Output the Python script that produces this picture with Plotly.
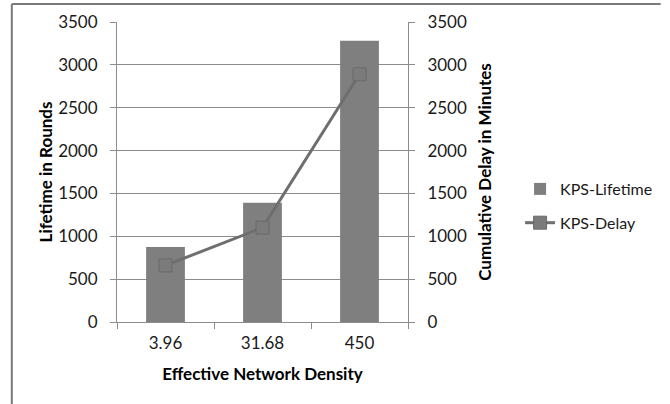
import plotly.graph_objects as go

# Network density categories and measured series
densities = ["3.96", "31.68", "450"]
lifetime_rounds = [875, 1390, 3280]
delay_minutes = [660, 1100, 2890]

W, H = 670, 404
ML, MR, MT, MB = 117, 257, 22, 82
PW, PH = W - ML - MR, H - MT - MB


def px_x(px):
    return (px - ML) / PW


def px_y(py):
    return (H - MB - py) / PH


FONT = "Lato, 'Open Sans', sans-serif"
AXIS_GRAY = "#8c8c8c"

fig = go.Figure()
fig.add_trace(go.Bar(
    x=densities, y=lifetime_rounds, name="KPS-Lifetime",
    marker=dict(color="#7f7f7f", line=dict(width=0)),
    width=0.4, legendgroup="a",
))
fig.add_trace(go.Scatter(
    x=densities, y=delay_minutes, name="KPS-Delay", yaxis="y2",
    mode="lines+markers",
    line=dict(color="#6e6e6e", width=3),
    marker=dict(symbol="square", size=13, color="#7b7b7b",
                line=dict(color="#6a6a6a", width=1)),
    legendgroup="b",
))

tickfont = dict(family=FONT, size=17, color="#1a1a1a")
titlefont = dict(family=FONT, size=17, color="#000000", weight="bold")

fig.update_layout(
    width=W, height=H,
    margin=dict(l=ML, r=MR, t=MT, b=MB, pad=0),
    paper_bgcolor="white", plot_bgcolor="white",
    font=dict(family=FONT, color="#1a1a1a"),
    showlegend=True,
    legend=dict(
        x=px_x(527), y=px_y(206), xanchor="left", yanchor="middle",
        font=dict(family=FONT, size=16, color="#1a1a1a"),
        traceorder="grouped", tracegroupgap=10,
        bgcolor="rgba(0,0,0,0)",
    ),
    xaxis=dict(
        type="category", tickson="boundaries",
        showline=True, linecolor=AXIS_GRAY, linewidth=1,
        ticks="outside", ticklen=6, tickcolor=AXIS_GRAY,
        ticklabelstandoff=6,
        showgrid=False, tickfont=tickfont,
        title=dict(text="Effective Network Density", font=titlefont, standoff=15),
    ),
    yaxis=dict(
        range=[0, 3500], dtick=500,
        showline=True, linecolor=AXIS_GRAY, linewidth=1,
        ticks="outside", ticklen=6, tickcolor=AXIS_GRAY,
        ticklabelstandoff=9,
        showgrid=True, gridcolor=AXIS_GRAY, gridwidth=1,
        zeroline=False, tickfont=tickfont,
        title=dict(text="Lifetime in Rounds", font=titlefont, standoff=1),
    ),
    yaxis2=dict(
        range=[0, 3500], dtick=500, overlaying="y", side="right",
        showline=True, linecolor=AXIS_GRAY, linewidth=1,
        ticks="outside", ticklen=6, tickcolor=AXIS_GRAY,
        ticklabelstandoff=9,
        showgrid=False, zeroline=False, tickfont=tickfont,
        title=dict(text="Cumulative Delay in Minutes", font=titlefont, standoff=13),
    ),
    bargap=0.6,
)

# Chart frame: top and left edges
frame = dict(color="#7a7a7a", width=2)
fig.add_shape(type="line", xref="paper", yref="paper",
              x0=px_x(10), x1=px_x(W), y0=px_y(4), y1=px_y(4), line=frame)
fig.add_shape(type="line", xref="paper", yref="paper",
              x0=px_x(10), x1=px_x(10), y0=px_y(4), y1=px_y(H), line=frame)

fig.write_html("out.html")
